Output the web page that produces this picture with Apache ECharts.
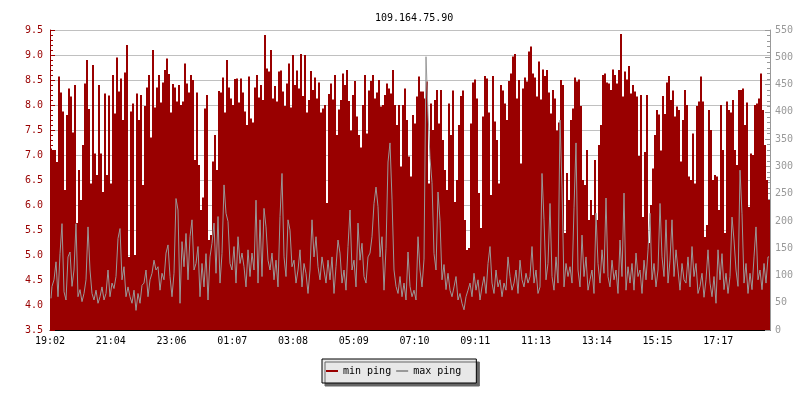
<!DOCTYPE html>
<html>
<head>
<meta charset="utf-8">
<script src="https://cdn.jsdelivr.net/npm/echarts@6/dist/echarts.min.js"></script>
<style>
html,body{margin:0;padding:0;background:#fff;}
#chart{width:800px;height:400px;}
</style>
</head>
<body>
<div id="chart"></div>
<script>
// X axis tick labels (every ~2h01m, starting 19:02)
const xTickLabels = ['19:02','21:04','23:06','01:07','03:08','05:09','07:10','09:11','11:13','13:14','15:15','17:17'];
const stepMinutes = 4;          // one sample every 4 minutes over 24 h
const tickIntervalMinutes = 121.5;

// min ping (ms, left axis) — 360 samples
const minPing = [
  7.13,7.1,7.1,6.86,8.57,8.25,7.87,6.3,7.8,8.33,
  8.17,7.45,8.4,5.64,6.7,6.1,7.2,8.43,8.9,7.92,
  6.43,8.8,7.03,6.6,8.4,7.03,6.26,8.23,6.6,8.19,
  6.43,8.6,7.83,8.95,8.27,8.53,7.7,8.65,9.2,4.96,
  7.87,8.03,5.0,8.23,7.7,8.2,6.4,7.98,8.35,8.6,
  7.35,9.1,7.95,8.35,8.6,8.05,8.45,8.7,8.93,8.62,
  7.85,8.42,8.35,8.07,8.4,8.0,8.07,8.83,8.43,8.25,
  8.6,8.5,6.9,8.25,6.8,5.9,6.15,7.93,8.2,5.3,
  5.4,6.87,7.4,6.7,8.28,8.25,8.55,7.85,8.9,8.35,
  8.13,8.0,8.52,8.53,8.05,8.53,8.25,7.87,7.6,8.57,
  7.73,7.65,8.35,8.6,8.15,8.4,8.1,9.4,8.73,8.67,
  9.1,8.13,8.38,8.07,8.67,8.69,8.27,7.98,8.43,8.83,
  7.95,9.0,8.4,8.69,8.33,9.02,8.18,9.0,7.85,8.1,
  8.68,8.3,8.55,8.13,8.45,7.85,7.93,8.0,6.04,8.22,
  8.43,8.11,8.6,7.4,7.91,8.1,8.63,8.4,8.7,8.08,
  7.49,8.2,8.48,7.77,7.4,7.15,8.0,8.6,7.43,8.29,
  8.48,8.6,8.13,8.25,8.5,7.97,8.0,8.2,8.43,8.33,
  8.23,8.7,8.0,7.6,8.0,6.77,8.0,8.33,7.7,6.97,
  6.57,7.8,7.63,8.17,8.57,8.27,8.27,8.13,8.47,6.43,
  8.03,7.5,8.1,8.3,7.63,8.3,7.3,6.7,6.3,8.03,
  7.4,8.29,6.06,6.5,7.6,8.18,8.29,5.7,5.1,5.14,
  7.63,8.45,8.51,8.13,6.24,5.54,7.77,8.58,8.53,7.85,
  6.2,8.58,7.67,7.3,6.43,8.4,8.29,8.03,7.7,8.48,
  8.63,8.97,9.02,8.13,8.5,6.83,8.33,8.55,8.47,9.07,
  9.17,8.63,8.55,8.17,8.87,8.11,8.71,8.58,8.7,8.25,
  7.83,8.3,8.13,7.49,7.65,8.5,8.4,5.44,6.64,6.1,
  7.7,7.93,8.55,8.47,8.51,7.98,6.5,6.4,7.1,5.7,
  6.1,5.8,6.9,5.7,7.2,7.6,8.6,8.63,8.45,8.43,
  8.3,8.71,8.6,8.43,8.7,9.42,8.17,8.67,8.51,8.78,
  8.23,8.4,8.27,8.17,6.98,8.2,5.76,7.06,8.2,5.24,
  6.0,6.73,7.4,7.9,7.81,7.09,8.18,7.82,8.45,8.58,
  8.1,8.29,7.77,7.97,7.9,6.87,7.7,8.3,8.0,6.57,
  6.5,7.43,6.43,7.98,8.07,8.57,8.07,5.36,5.6,7.9,
  7.5,6.5,6.6,6.57,5.9,8.0,7.1,5.44,8.07,7.9,
  7.85,8.1,7.1,6.8,8.3,8.3,8.33,7.6,8.05,5.96,
  7.03,7.0,8.0,8.03,8.13,8.63,7.9,7.2,6.5,6.1
];

// max ping (ms, right axis) — 360 samples
const maxPing = [
  58,80,92,125,61,140,195,70,55,134,
  143,80,110,195,61,74,52,67,92,189,
  110,67,55,73,49,61,79,55,67,110,
  61,86,76,98,168,186,92,116,61,79,
  61,49,73,36,67,49,82,86,110,61,
  92,104,128,110,116,73,104,92,141,156,
  98,61,104,241,220,49,162,116,177,92,
  171,202,110,122,153,61,122,79,140,55,
  134,159,196,104,208,86,140,266,214,199,
  122,110,153,86,171,122,141,116,79,147,
  98,141,110,238,86,202,98,223,189,128,
  110,141,92,128,79,208,287,134,98,202,
  183,116,128,86,110,147,79,122,104,67,
  110,202,134,171,116,92,134,110,86,128,
  92,134,67,116,165,141,86,110,73,153,
  220,110,128,79,196,128,159,98,86,134,
  141,171,232,262,226,134,171,73,150,308,
  343,240,110,80,67,98,61,86,55,143,
  80,61,73,55,171,110,79,130,501,398,
  315,270,140,110,253,201,92,120,74,104,
  73,61,79,98,55,67,49,37,61,73,
  86,61,104,73,92,55,79,98,67,122,
  153,86,67,110,79,92,61,86,73,134,
  98,73,86,110,67,128,92,79,104,86,
  98,153,86,110,67,79,287,202,92,122,
  232,98,73,134,86,385,262,79,122,98,
  116,86,224,343,110,79,174,98,134,73,
  92,110,67,214,122,86,147,104,242,98,
  79,128,92,110,67,165,98,251,73,116,
  86,122,73,141,98,110,67,128,92,147,
  214,92,122,79,110,232,134,98,202,86,
  128,202,98,147,110,73,122,92,86,134,
  79,153,98,122,67,80,104,60,92,147,
  86,61,98,49,147,92,140,74,104,67,
  98,207,165,110,80,293,213,86,122,67,
  104,74,134,189,92,110,74,122,86,134
];

const FONT = 'DejaVu Sans Mono';
const RED = '#990000';
const GRAY = '#999999';

const redData = minPing.map((v, i) => [i * stepMinutes + stepMinutes / 2, v]);
const grayData = maxPing.map((v, i) => [i * stepMinutes + stepMinutes / 2, v]);

const chart = echarts.init(document.getElementById('chart'), null, {renderer: 'canvas'});
chart.setOption({
  animation: false,
  backgroundColor: '#ffffff',
  title: {
    text: '109.164.75.90',
    left: 370, top: 8,
    textStyle: {fontFamily: FONT, fontSize: 10, fontWeight: 'normal', color: '#000'}
  },
  grid: {left: 50, top: 30, width: 720, height: 300, containLabel: false},
  legend: {
    left: 322, top: 359,
    orient: 'horizontal',
    padding: [7, 15, 7, 4],
    itemGap: 5,
    itemWidth: 12, itemHeight: 2,
    backgroundColor: '#e8e8e8',
    borderColor: '#000', borderWidth: 1,
    shadowColor: '#666666', shadowBlur: 0, shadowOffsetX: 3, shadowOffsetY: 3,
    textStyle: {fontFamily: FONT, fontSize: 10, color: '#000'},
    data: [{name: 'min ping', icon: 'rect'}, {name: 'max ping', icon: 'rect'}]
  },
  xAxis: {
    type: 'value', min: 0, max: 1440, interval: tickIntervalMinutes,
    axisLine: {lineStyle: {color: '#000', width: 1}},
    axisTick: {inside: true, length: 5, lineStyle: {color: '#000'}},
    splitLine: {show: false},
    axisLabel: {
      fontFamily: FONT, fontSize: 10, color: '#000', margin: 6,
      showMaxLabel: false,
      formatter: function (v) {
        const k = Math.round(v / tickIntervalMinutes);
        if (Math.abs(v - k * tickIntervalMinutes) > 0.5 || k >= xTickLabels.length) return '';
        return xTickLabels[k];
      }
    }
  },
  yAxis: [{
    type: 'value', position: 'left', min: 3.5, max: 9.5, interval: 0.5,
    axisLine: {show: true, lineStyle: {color: RED, width: 1}},
    axisTick: {show: true, inside: true, length: 5, lineStyle: {color: RED}},
    minorTick: {show: true, splitNumber: 5, length: 3, lineStyle: {color: RED}},
    splitLine: {show: true, lineStyle: {color: '#c0c0c0', width: 1}},
    axisLabel: {fontFamily: FONT, fontSize: 10, color: RED, margin: 7,
      formatter: v => v.toFixed(1)}
  }, {
    type: 'value', position: 'right', min: 0, max: 550, interval: 50,
    axisLine: {show: true, lineStyle: {color: GRAY, width: 1}},
    axisTick: {show: true, inside: true, length: 5, lineStyle: {color: GRAY}},
    minorTick: {show: true, splitNumber: 5, length: 3, lineStyle: {color: GRAY}},
    splitLine: {show: false},
    axisLabel: {fontFamily: FONT, fontSize: 10, color: GRAY, margin: 5}
  }],
  series: [{
    name: 'min ping', type: 'bar', yAxisIndex: 0,
    data: redData, barWidth: 2, barGap: '0%',
    itemStyle: {color: RED},
    large: false, silent: true, z: 2
  }, {
    name: 'max ping', type: 'line', yAxisIndex: 1,
    data: grayData, showSymbol: false, symbol: 'none',
    step: 'middle',
    lineStyle: {color: GRAY, width: 1},
    itemStyle: {color: GRAY},
    silent: true, z: 3
  }]
});
</script>
</body>
</html>
